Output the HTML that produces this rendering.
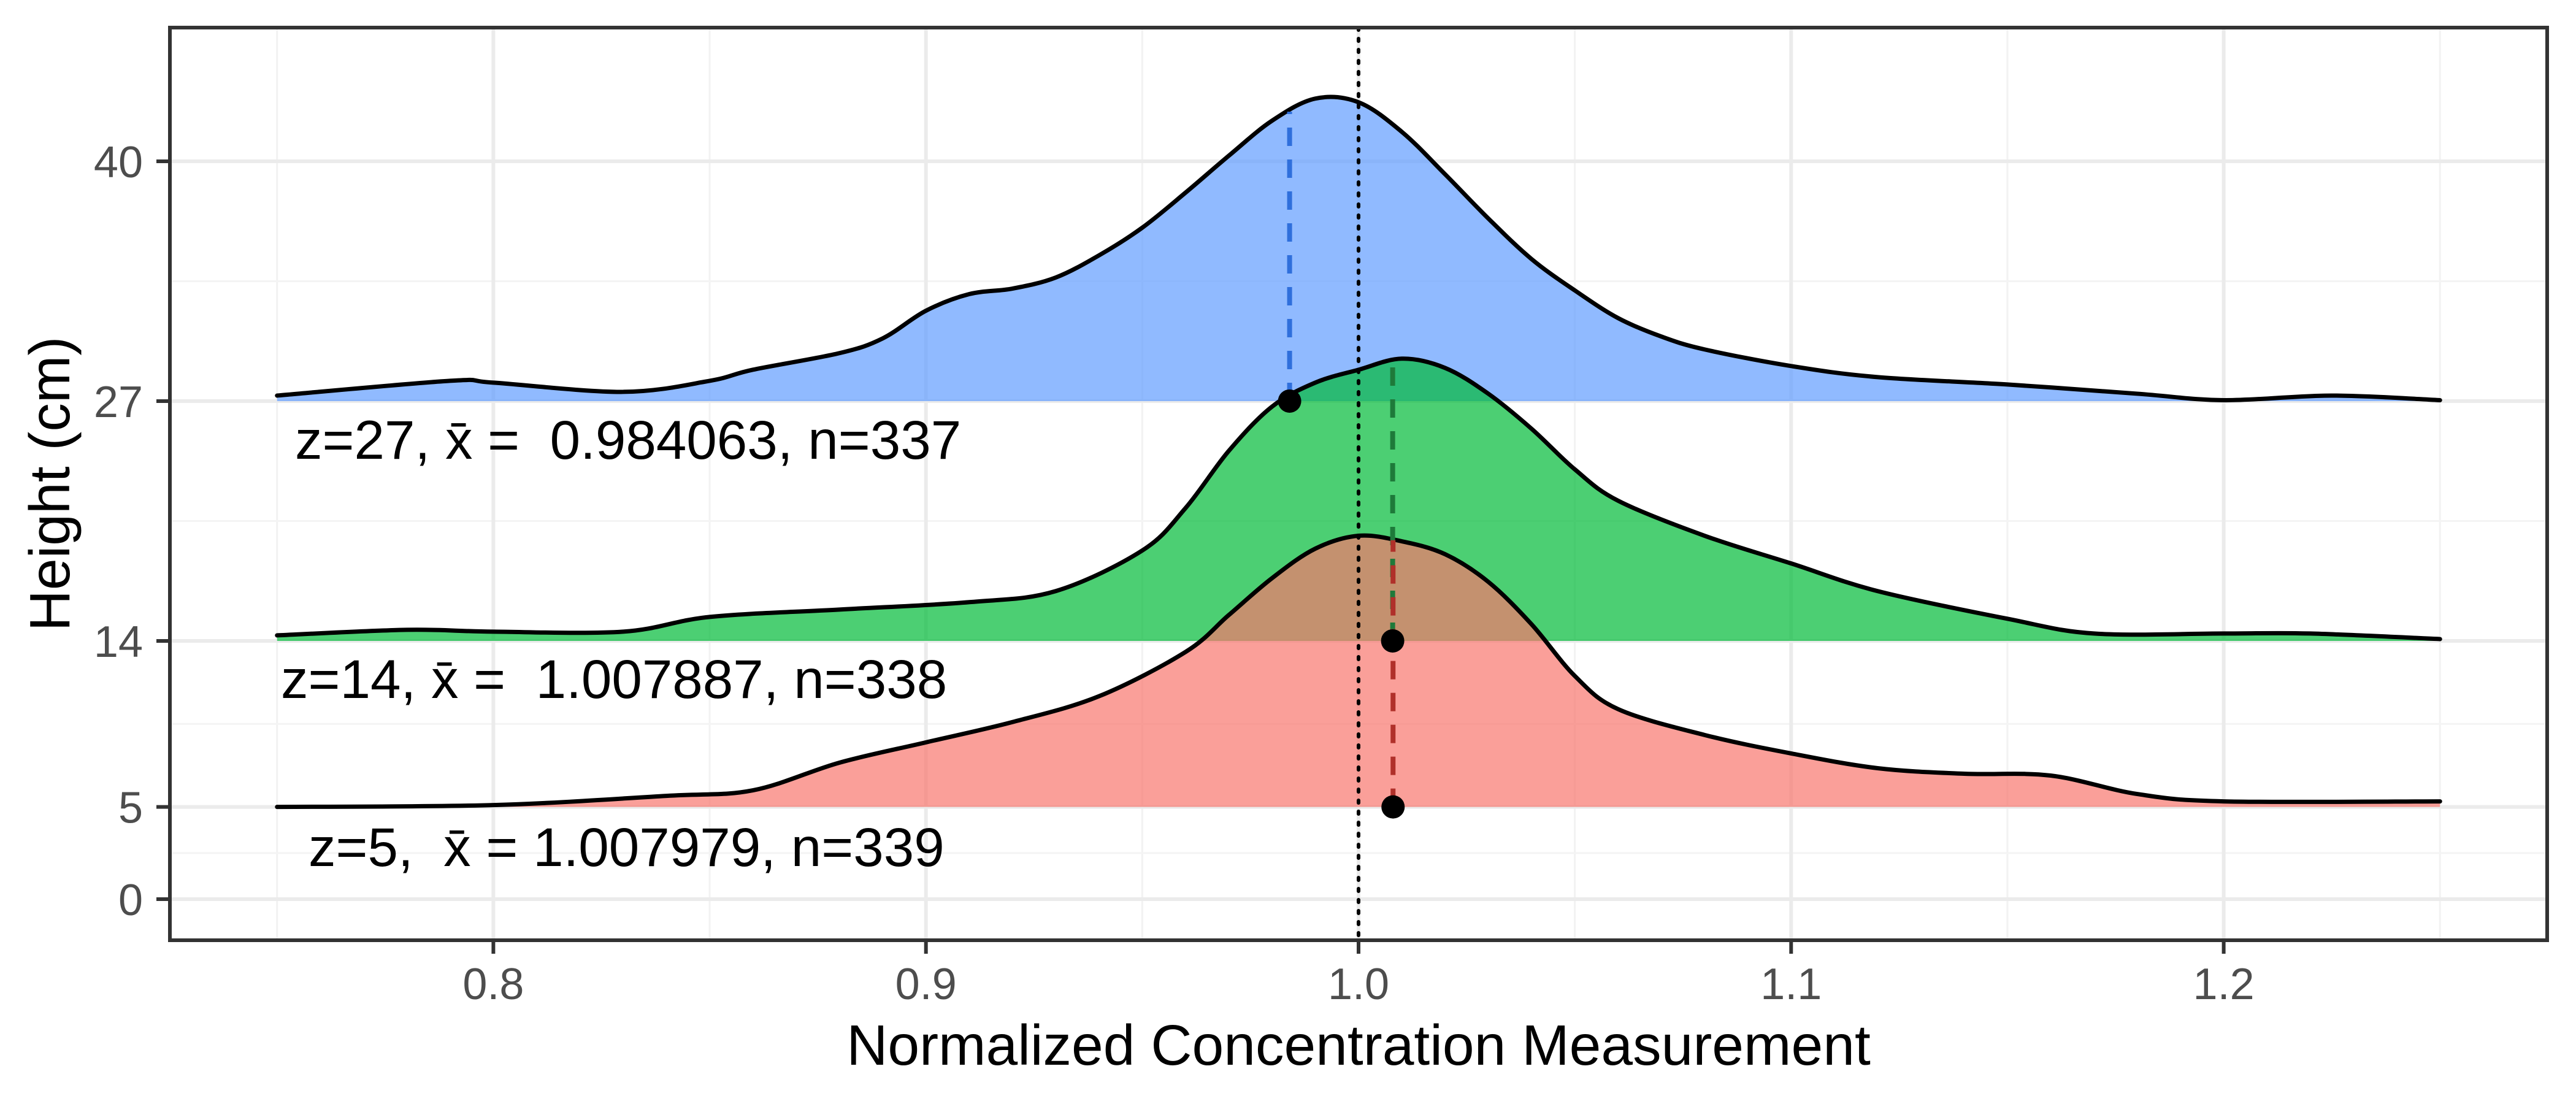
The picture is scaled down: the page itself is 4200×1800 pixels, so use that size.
<!DOCTYPE html>
<html><head><meta charset="utf-8"><style>
html,body{margin:0;padding:0;background:#fff;}
svg{display:block;font-family:"Liberation Sans",Arial,sans-serif;}
</style></head><body>
<svg id="chart" width="4200" height="1800" viewBox="0 0 4200 1800" xmlns="http://www.w3.org/2000/svg">
<rect x="0" y="0" width="4200" height="1800" fill="#fff"/>
<g id="grid"></g>
<g id="series"></g>
<g id="axes"></g>
</svg>
<script>
const xGrid = [0.8, 0.9, 1.0, 1.1, 1.2];
const xTickLabels = ["0.8", "0.9", "1.0", "1.1", "1.2"];
const xMinor = [0.75, 0.85, 0.95, 1.05, 1.15, 1.25];
const yTicks = [0, 5, 14, 27, 40];
const yTickLabels = ["0", "5", "14", "27", "40"];
const yMinor = [2.5, 9.5, 20.5, 33.5];
const groupNames = ["z27", "z14", "z5"];
const baselines = [27, 14, 5];
const means = [0.984063, 1.007887, 1.007979];
const counts = [337, 338, 339];
const blueX = [0.75,0.79,0.80,0.83,0.85,0.86,0.88,0.89,0.90,0.91,0.92,0.93,0.94,0.95,0.96,0.97,0.98,0.99,1.00,1.01,1.02,1.03,1.04,1.05,1.06,1.07,1.08,1.10,1.12,1.15,1.18,1.20,1.225,1.25];
const blueY = [0.3,1.1,1.0,0.5,1.1,1.7,2.6,3.4,4.9,5.8,6.1,6.7,7.9,9.4,11.3,13.3,15.2,16.4,16.2,14.6,12.3,9.9,7.7,6.0,4.5,3.5,2.8,1.9,1.3,0.9,0.4,0.05,0.3,0.05];
const greenX = [0.75,0.78,0.80,0.83,0.85,0.88,0.91,0.93,0.95,0.96,0.97,0.98,0.99,1.00,1.01,1.02,1.03,1.04,1.05,1.06,1.08,1.10,1.12,1.15,1.17,1.20,1.22,1.25];
const greenY = [0.3,0.6,0.5,0.5,1.3,1.7,2.1,2.7,4.9,7.2,10.3,12.7,14.0,14.7,15.3,14.8,13.4,11.5,9.3,7.6,5.7,4.2,2.7,1.2,0.4,0.4,0.4,0.1];
const redX = [0.75,0.80,0.84,0.86,0.88,0.90,0.92,0.94,0.96,0.97,0.98,0.99,1.00,1.01,1.02,1.03,1.04,1.05,1.06,1.08,1.10,1.12,1.14,1.16,1.18,1.20,1.25];
const redY = [0,0.1,0.6,0.9,2.4,3.5,4.6,6.0,8.4,10.4,12.4,14.0,14.7,14.4,13.7,12.2,9.9,7.1,5.3,3.9,2.9,2.1,1.8,1.7,0.7,0.3,0.3];

const NS = "http://www.w3.org/2000/svg";
const L = 277, R = 4153, T = 45, B = 1533;
function xs(v){ return 2215 + (v - 1) * 7053; }
function ys(v){ return 1466 - v * 30.075; }
function mk(tag, attrs, parent){
  const e = document.createElementNS(NS, tag);
  for (const k in attrs) e.setAttribute(k, attrs[k]);
  parent.appendChild(e); return e;
}
const grid = document.getElementById('grid');
const series = document.getElementById('series');
const axes = document.getElementById('axes');

xMinor.forEach(v => { const e = mk('line',{x1:xs(v),x2:xs(v),y1:T,y2:B,stroke:'#f2f2f2','stroke-width':3},grid);
  
   });
yMinor.forEach(v => { const e = mk('line',{x1:L,x2:R,y1:ys(v),y2:ys(v),stroke:'#f4f4f4','stroke-width':3},grid);
  
   });
xGrid.forEach(v => { const e = mk('line',{x1:xs(v),x2:xs(v),y1:T,y2:B,stroke:'#ebebeb','stroke-width':6},grid);
  
   });
yTicks.forEach(v => { const e = mk('line',{x1:L,x2:R,y1:ys(v),y2:ys(v),stroke:'#ebebeb','stroke-width':6},grid);
  
   });

function smoothPath(px, py){
  let d = `M${px[0]},${py[0]}`;
  for (let i = 0; i < px.length - 1; i++){
    const x0 = px[Math.max(i-1,0)], y0 = py[Math.max(i-1,0)];
    const x1 = px[i], y1 = py[i], x2 = px[i+1], y2 = py[i+1];
    const x3 = px[Math.min(i+2,px.length-1)], y3 = py[Math.min(i+2,px.length-1)];
    const c1x = x1 + (x2 - x0)/6, c1y = y1 + (y2 - y0)/6;
    const c2x = x2 - (x3 - x1)/6, c2y = y2 - (y3 - y1)/6;
    d += ` C${c1x},${c1y} ${c2x},${c2y} ${x2},${y2}`;
  }
  return d;
}
const seriesX = [blueX, greenX, redX];
const seriesY = [blueY, greenY, redY];
const fills = ['#619CFF', '#00BA38', '#F8766D'];
const dashCols = ['#2f6fdc', '#1e7a3a', '#b0302a'];
function interp(xa, ya, v){
  for (let i = 0; i < xa.length - 1; i++) if (v >= xa[i] && v <= xa[i+1]) {
    const t = (v - xa[i])/(xa[i+1]-xa[i]); return ya[i] + t*(ya[i+1]-ya[i]); }
  return 0;
}
for (let s = 0; s < 3; s++){
  const px = seriesX[s].map(xs);
  const py = seriesY[s].map(h => ys(baselines[s] + h));
  const line = smoothPath(px, py);
  const base = ys(baselines[s]);
  const area = mk('path',{d: line + ` L${px[px.length-1]},${base} L${px[0]},${base} Z`, fill: fills[s], 'fill-opacity':0.7, stroke:'none'}, series);
  
  
  const ln = mk('path',{d: line, fill:'none', stroke:'#000', 'stroke-width':7, 'stroke-linejoin':'round', 'stroke-linecap':'round'}, series);
  
  
}
for (let s = 0; s < 3; s++){
  const top = ys(baselines[s] + interp(seriesX[s], seriesY[s], means[s]));
  const dl = mk('line',{x1:xs(means[s]),x2:xs(means[s]),y1:ys(baselines[s]),y2:top,stroke:dashCols[s],'stroke-width':8,'stroke-dasharray':'30 22'}, series);
  
  
}
const ref = mk('line',{x1:xs(1),x2:xs(1),y1:T,y2:B,stroke:'#000','stroke-width':6,'stroke-dasharray':'4 14','stroke-linecap':'round'}, series);


for (let s = 0; s < 3; s++){
  const c = mk('circle',{cx:xs(means[s]),cy:ys(baselines[s]),r:19,fill:'#000'}, series);
  
  
}
const labelX = [481, 458, 503];
const labelY = [748, 1138, 1412];
const labelTxt = [
  ['z=27, ', ' =  0.984063, n=' + counts[0]],
  ['z=14, ', ' =  1.007887, n=' + counts[1]],
  ['z=5,  ', ' = 1.007979, n=' + counts[2]]];
for (let s = 0; s < 3; s++){
  const t = mk('text',{x:labelX[s], y:labelY[s], 'font-size':89, fill:'#000', 'xml:space':'preserve'}, series);
  
  
  t.style.whiteSpace = 'pre';
  const a = mk('tspan',{},t); a.textContent = labelTxt[s][0];
  const b = mk('tspan',{},t); b.textContent = 'x\u0304';
  const c = mk('tspan',{},t); c.textContent = labelTxt[s][1];
}

const border = mk('rect',{x:L,y:T,width:R-L,height:B-T,fill:'none',stroke:'#333','stroke-width':6}, axes);


xGrid.forEach((v,i) => {
  const tk = mk('line',{x1:xs(v),x2:xs(v),y1:B,y2:B+22,stroke:'#333','stroke-width':6}, axes);
  
  
  const t = mk('text',{x:xs(v), y:1629, 'font-size':72, fill:'#4d4d4d','text-anchor':'middle'}, axes);
  
  
  t.textContent = xTickLabels[i];
});
yTicks.forEach((v,i) => {
  const tk = mk('line',{x1:L-22,x2:L,y1:ys(v),y2:ys(v),stroke:'#333','stroke-width':6}, axes);
  
  
  const t = mk('text',{x:233, y:ys(v)+26, 'font-size':72, fill:'#4d4d4d','text-anchor':'end'}, axes);
  
  
  t.textContent = yTickLabels[i];
});
const xt = mk('text',{x:(L+R)/2, y:1736, 'font-size':93, fill:'#000','text-anchor':'middle'}, axes);


xt.textContent = 'Normalized Concentration Measurement';
const yt = mk('text',{x:0, y:0, 'font-size':93, fill:'#000','text-anchor':'middle', transform:`translate(113,${(T+B)/2}) rotate(-90)`}, axes);


yt.textContent = 'Height (cm)';
</script>
</body></html>
